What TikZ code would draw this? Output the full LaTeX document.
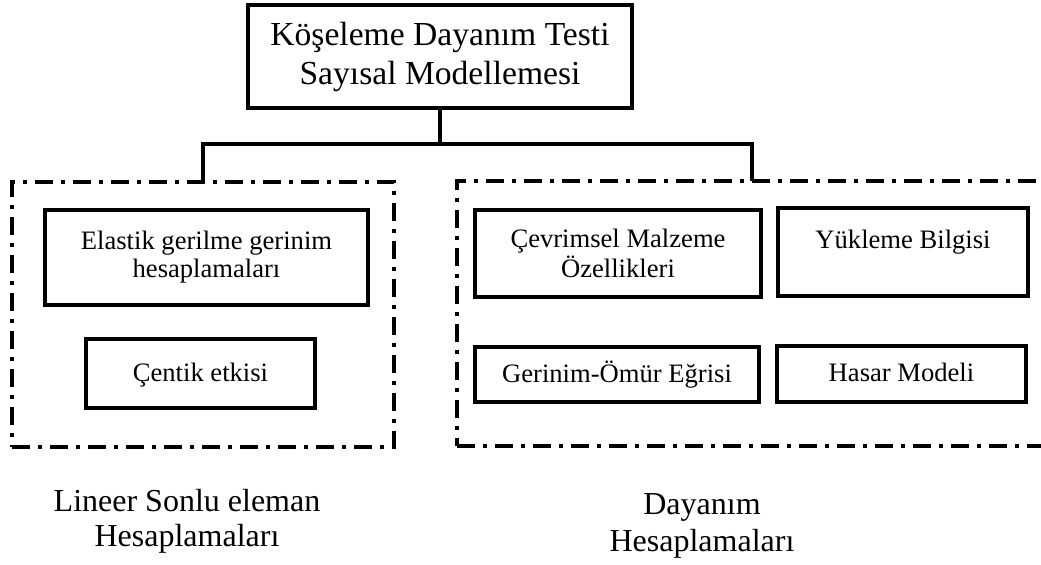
\documentclass[tikz,border=0pt]{standalone}
\usepackage{fontspec}
\setmainfont{Liberation Serif}
\begin{document}
\begin{tikzpicture}[x=0.5pt,y=-0.5pt,
	box/.style={draw, rectangle, line width=1.75pt, inner sep=0pt, align=center, font=\fontsize{13.3}{14}\selectfont},
	onebox/.style={box, text height=10.5pt, text depth=2.5pt},
	groupbox/.style={draw, rectangle, line width=1.75pt, dash pattern=on 9pt off 4pt on 2pt off 4pt, inner sep=0pt},
	caption/.style={align=center, font=\fontsize{16}{17.5}\selectfont},
	link/.style={line width=1.75pt}]
				\clip (0,0) rectangle (1041,565);
				\node[box, minimum width=192pt, minimum height=51.5pt, font=\fontsize{16.8}{19.5}\selectfont] (top) at (440,56.5) {Köşeleme Dayanım Testi\\Sayısal Modellemesi};
				\node[groupbox, minimum width=191pt, minimum height=132.5pt] (lgroup) at (203,314.5) {};
				\node[groupbox, minimum width=306.5pt, minimum height=132.5pt] (rgroup) at (763.5,313.5) {};
				\node[box, minimum width=161.5pt, minimum height=47.5pt] (elastik) at (206.5,257.5) {Elastik gerilme gerinim\\hesaplamaları};
				\node[onebox, minimum width=114.5pt, minimum height=34.5pt] (centik) at (200.5,373.5) {Çentik etkisi};
				\node[box, minimum width=143pt, minimum height=43.5pt, font=\fontsize{13.3}{15}\selectfont] (cevrim) at (618,253.5) {Çevrimsel Malzeme\\Özellikleri};
				\node[box, minimum width=125pt, minimum height=44pt, text depth=13pt] (yukleme) at (903,252) {Yükleme Bilgisi};
				\node[onebox, minimum width=142pt, minimum height=27.5pt] (gerinim) at (617,374.5) {Gerinim-Ömür Eğrisi};
				\node[onebox, minimum width=124.5pt, minimum height=28pt] (hasar) at (901.5,374) {Hasar Modeli};
				\node[caption] (llabel) at (187,521) {Lineer Sonlu eleman\\Hesaplamaları};
				\node[caption, font=\fontsize{16}{18.5}\selectfont] (rlabel) at (702,526) {Dayanım\\Hesaplamaları};
				\coordinate (fork) at (440,144);
				\coordinate (rtap) at (752,181);
				\draw[link] (top.south) -- (fork);
				\draw[link] (lgroup.north) |- (fork) -| (rtap);
			\end{tikzpicture}
\end{document}
